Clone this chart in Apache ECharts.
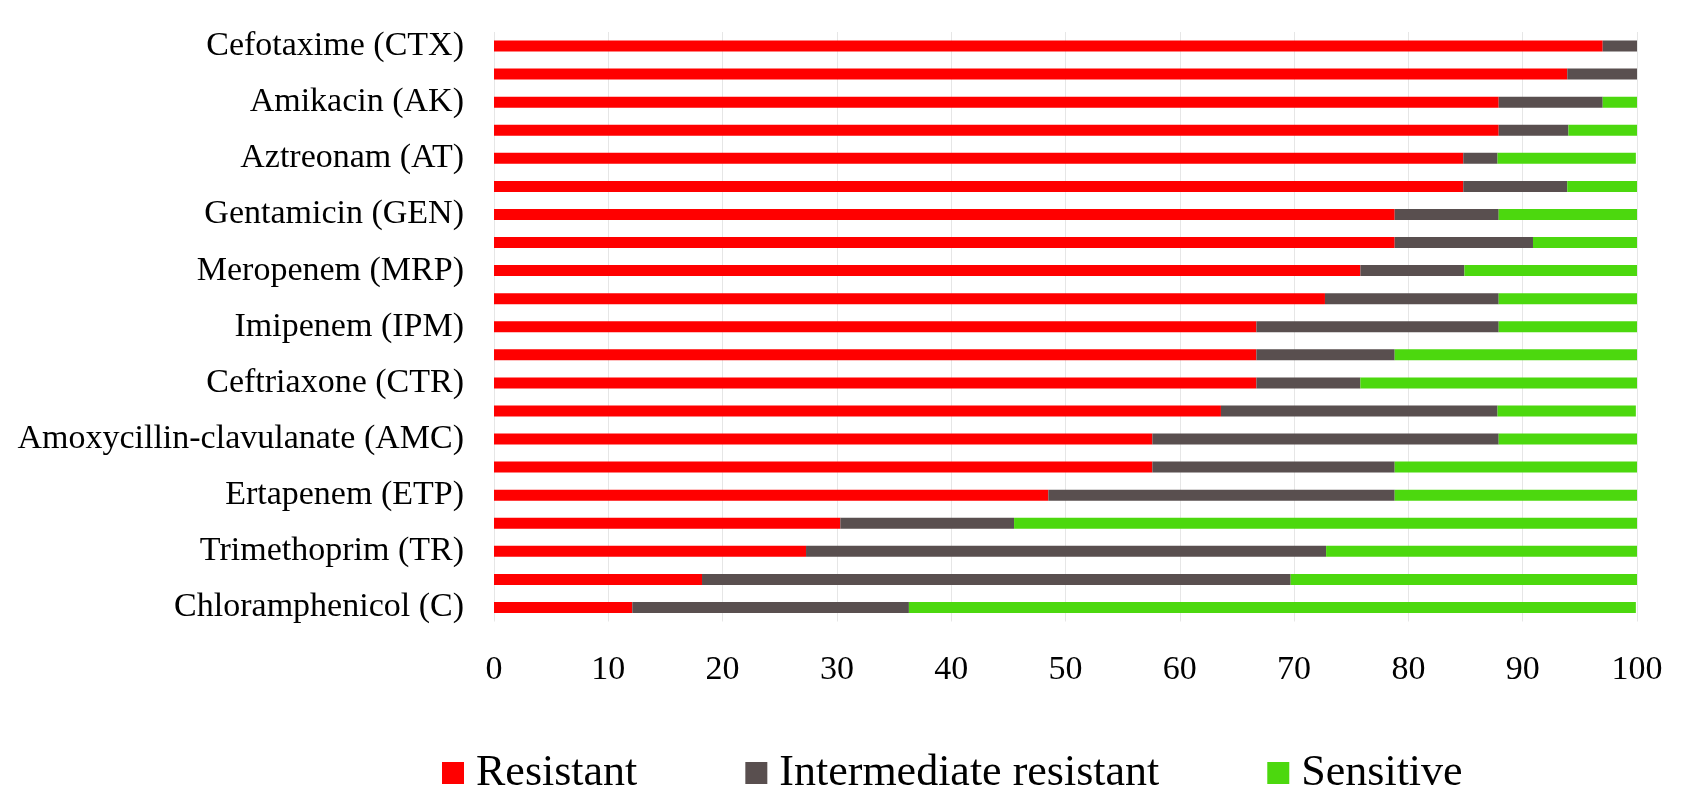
<!DOCTYPE html>
<html>
<head>
<meta charset="utf-8">
<script src="https://cdn.jsdelivr.net/npm/echarts@6/dist/echarts.min.js"></script>
<style>
html,body{margin:0;padding:0;background:#fff;}
#chart{width:1694px;height:798px;}
</style>
</head>
<body>
<div id="chart"></div>
<script>
// Categories, top to bottom (unlabelled rows in the original have their names hidden)
const categories = [
  'Cefotaxime (CTX)', '',
  'Amikacin (AK)', '',
  'Aztreonam (AT)', '',
  'Gentamicin (GEN)', '',
  'Meropenem (MRP)', '',
  'Imipenem (IPM)', '',
  'Ceftriaxone (CTR)', '',
  'Amoxycillin-clavulanate (AMC)', '',
  'Ertapenem (ETP)', '',
  'Trimethoprim (TR)', '',
  'Chloramphenicol (C)'
];
const resistant    = [97.0, 93.9, 87.9, 87.9, 84.8, 84.8, 78.8, 78.8, 75.8, 72.7, 66.7, 66.7, 66.7, 63.6, 57.6, 57.6, 48.5, 30.3, 27.3, 18.2, 12.1];
const intermediate = [3.0, 6.1, 9.1, 6.1, 3.0, 9.1, 9.1, 12.1, 9.1, 15.2, 21.2, 12.1, 9.1, 24.2, 30.3, 21.2, 30.3, 15.2, 45.5, 51.5, 24.2];
const sensitive    = [0, 0, 3.0, 6.1, 12.1, 6.1, 12.1, 9.1, 15.2, 12.1, 12.1, 21.2, 24.2, 12.1, 12.1, 21.2, 21.2, 54.5, 27.3, 30.3, 63.6];
const seriesNames  = ['Resistant', 'Intermediate resistant', 'Sensitive'];
const xTicks = [0, 100, 10]; // min, max, interval

const FONT = '"Liberation Serif", "Times New Roman", serif';
const colors = ['#FF0000', '#594F4F', '#4CD80E'];

const chart = echarts.init(document.getElementById('chart'), null, {renderer: 'canvas'});
const values = [resistant, intermediate, sensitive];
chart.setOption({
  animation: false,
  backgroundColor: '#ffffff',
  grid: {left: 494, right: 57, top: 32, bottom: 176.5, containLabel: false},
  legend: {
    left: 437, top: 746,
    itemWidth: 22, itemHeight: 22, itemGap: 108,
    icon: 'rect',
    textStyle: {fontFamily: FONT, fontSize: 44, color: '#000', padding: [0, 0, 0, 7]},
    data: seriesNames
  },
  xAxis: {
    type: 'value', min: xTicks[0], max: xTicks[1], interval: xTicks[2],
    axisLine: {show: false}, axisTick: {show: false},
    splitLine: {show: true, lineStyle: {color: '#e6e6e6', width: 1}},
    axisLabel: {fontFamily: FONT, fontSize: 34, color: '#000', margin: 32}
  },
  yAxis: {
    type: 'category', data: categories, inverse: true,
    axisLine: {show: false}, axisTick: {show: false}, splitLine: {show: false},
    axisLabel: {interval: 1, fontFamily: FONT, fontSize: 34, color: '#000', margin: 30}
  },
  series: seriesNames.map((n, i) => ({
    name: n, type: 'bar', stack: 'total', barWidth: 11,
    itemStyle: {color: colors[i]},
    data: values[i]
  }))
});
</script>
</body>
</html>
